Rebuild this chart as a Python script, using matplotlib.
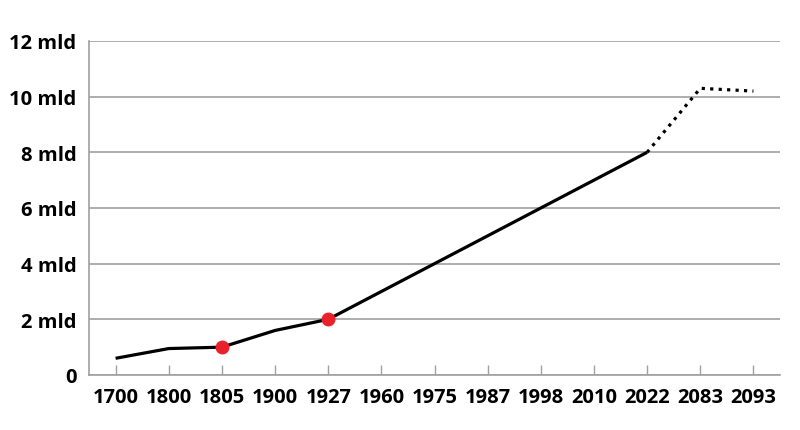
import numpy as np
import matplotlib.pyplot as plt

years = ["1700", "1800", "1805", "1900", "1927", "1960", "1975",
         "1987", "1998", "2010", "2022", "2083", "2093"]
# population in billions (mld)
population = [0.6, 0.95, 1.0, 1.6, 2.0, 3.0, 4.0, 5.0, 6.0, 7.0, 8.0, 10.3, 10.2]
highlight = ["1805", "1927"]
last_actual = "2022"
yticks = [0, 2, 4, 6, 8, 10, 12]
ylabels = ["0", "2 mld", "4 mld", "6 mld", "8 mld", "10 mld", "12 mld"]

plt.rcParams['font.family'] = ['Open Sans', 'DejaVu Sans']

fig = plt.figure(figsize=(8, 4.31), dpi=100)
ax = fig.add_axes([89 / 800, 1 - 376 / 431, 691 / 800, 334 / 431])

x = np.arange(len(years))
cut = years.index(last_actual)
ax.plot(x[:cut + 1], population[:cut + 1], "-", color="black", lw=2.3,
        solid_capstyle="butt", zorder=3)
ax.plot(x[cut:], population[cut:], ":", color="black", lw=2.3, zorder=3)

hi = [years.index(h) for h in highlight]
ax.plot(x[hi], [population[i] for i in hi], "o", color="#e8212b",
        markersize=9, zorder=4)

ax.set_xlim(-0.5, len(years) - 0.5)
ax.set_ylim(0, 12)
ax.set_xticks(x)
ax.set_xticklabels(years, fontsize=14.5, fontweight="bold")
ax.set_yticks(yticks)
ax.set_yticklabels(ylabels, fontsize=14.5, fontweight="bold")

ax.yaxis.grid(True, color="#a0a0a0", lw=1.2)
ax.set_axisbelow(True)
for s in ["top", "right"]:
    ax.spines[s].set_visible(False)
for s in ["left", "bottom"]:
    ax.spines[s].set_color("#a0a0a0")
    ax.spines[s].set_linewidth(1.2)

ax.tick_params(axis="x", direction="in", length=7, width=1, color="#a0a0a0", pad=9)
ax.tick_params(axis="y", length=0, pad=9)

fig.savefig("out.png", dpi=100)
